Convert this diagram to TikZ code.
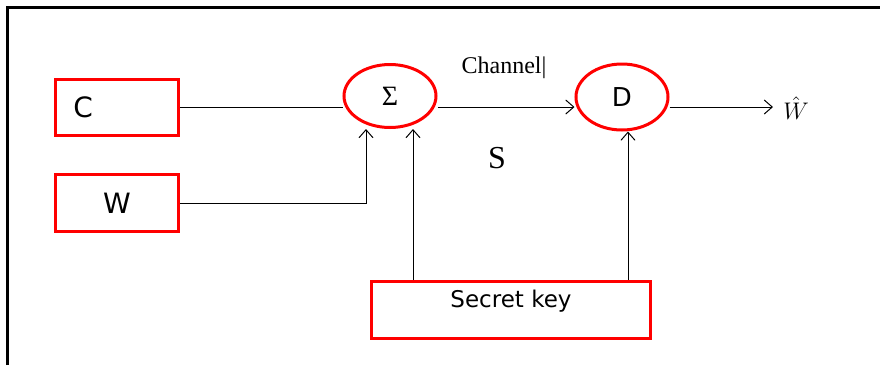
\documentclass[tikz,border=0pt]{standalone}
\usepackage{fontspec}
\usepackage{tikz}
\usetikzlibrary{positioning,shapes.geometric,arrows.meta}
\newfontfamily\boxfont{DejaVu Sans}
\newfontfamily\chanfont{Liberation Serif}

\begin{document}
\begin{tikzpicture}[x=0.5pt,y=-0.5pt,
        redbox/.style={draw=red,line width=1.5pt,minimum width=61.5pt,minimum height=28pt,inner sep=0pt,
            font=\boxfont\fontsize{14}{16}\selectfont},
        sumnode/.style={ellipse,draw=red,line width=1.5pt,minimum width=46pt,minimum height=31.5pt,inner sep=0pt},
        link/.style={line width=0.5pt,-{Straight Barb[length=4pt,width=7pt]}}]
            \useasboundingbox (0,0) rectangle (880,365);
            \draw[line width=1.5pt] (7,365) -- (7,7) -- (880,7);
            \node[redbox] (C) at (117,107) {};
            \node[font=\boxfont\fontsize{14}{16}\selectfont,inner sep=0pt,right=9.5pt of C.west] (Ctext) {C};
            \node[redbox,minimum height=28.5pt] (W) at (117,203) {W};
            \node[sumnode,font=\chanfont\fontsize{14}{16}\selectfont] (sum) at (390,96) {Σ};
            \node[sumnode,minimum height=33pt,font=\boxfont\fontsize{13}{15}\selectfont] (dec) at (622,97) {D};
            \node[redbox,minimum width=139.5pt,minimum height=28.5pt] (key) at (511,310) {};
            \node[font=\boxfont\fontsize{11.5}{14}\selectfont,inner sep=0pt,below=5pt of key.north] (keytext) {Secret key};
            \node[font=\chanfont\fontsize{12}{14}\selectfont] (chan) at (504,68) {Channel|};
            \node[font=\chanfont\fontsize{16}{18}\selectfont] (S) at (497,158) {S};
            \node[anchor=west,inner sep=5pt,font=\fontsize{12}{14}\selectfont] (out) at (773,108) {$\hat{W}$};
            \draw[line width=0.5pt] (C.east) -- (C.east -| sum.west);
            \draw[link] (C.east -| sum.east) -- (C.east -| dec.west);
            \draw[link] (C.east -| dec.east) -- (C.east -| out.west);
            \draw[link] (W.east) -| ([xshift=-12pt]sum.south);
            \draw[link] ([xshift=11.5pt]sum.south |- key.north) -- ([xshift=11.5pt]sum.south);
            \draw[link] ([xshift=3pt]dec.south |- key.north) -- ([xshift=3pt]dec.south);
        \end{tikzpicture}
\end{document}
